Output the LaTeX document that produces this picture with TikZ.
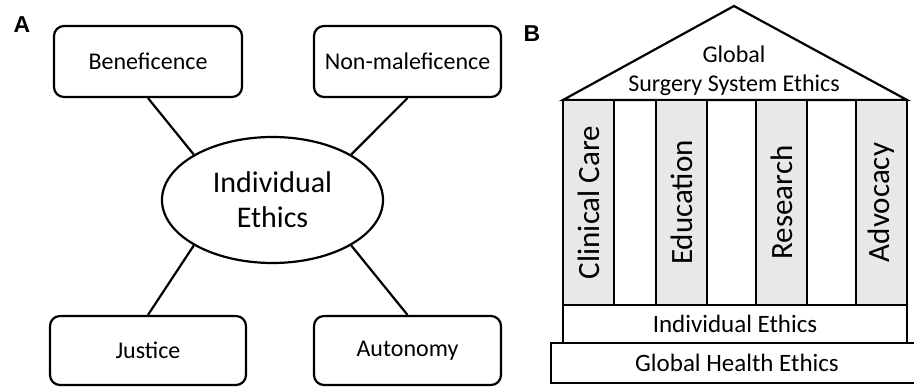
\documentclass[tikz,border=0pt]{standalone}
\usepackage{fontspec}
\setmainfont{Carlito}
\newfontfamily\panelfont{Liberation Sans}
\usetikzlibrary{shapes.geometric}

\definecolor{pillargray}{HTML}{E8E8E8}

\begin{document}
\begin{tikzpicture}[x=1pt,y=-1pt,line width=2.2pt,
    principle/.style={draw, rounded corners=10pt, inner sep=0pt,
      font=\fontsize{24}{29}\selectfont},
    core/.style={draw, ellipse, inner sep=0pt, minimum width=221pt,
      minimum height=126pt, align=center, font=\fontsize{30}{35}\selectfont},
    pillar/.style={draw, fill=pillargray, rotate=90, inner sep=0pt,
      minimum width=205pt, minimum height=51pt,
      font=\fontsize{31}{36}\selectfont},
    platform/.style={draw, inner sep=0pt, font=\fontsize{25}{30}\selectfont},
    panel/.style={font=\panelfont\bfseries\fontsize{23}{26}\selectfont}]
    \useasboundingbox (0,0) rectangle (914,387);

    % Panel A
    \node[panel] (labA) at (22,25) {A};
    \node[core] (ethics) at (272.5,200) {Individual\\Ethics};
    \node[principle, minimum width=188pt, minimum height=71pt] (benef) at (148,61.5) {Beneficence};
    \node[principle, minimum width=187pt, minimum height=71pt] (nonmal) at (407.5,61.5) {Non-maleficence};
    \node[principle, minimum width=196pt, minimum height=69pt] (justice) at (148,350.5) {\raisebox{-4pt}{Justice}};
    \node[principle, minimum width=187pt, minimum height=69pt] (autonomy) at (407.5,350.5) {\raisebox{-3pt}{Autonomy}};

    % Spokes
    \draw (benef.south) -- (ethics.150);
    \draw (nonmal.south) -- (ethics.30);
    \draw (justice.north) -- (ethics.210);
    \draw (autonomy.north) -- (ethics.330);

    % Panel B
    \node[panel] (labB) at (532,34) {B};
    \coordinate (roofL) at (563,100);
    \coordinate (roofT) at (734,6);
    \coordinate (roofR) at (907,100);
    \draw[line join=miter] (roofL) -- (roofT) -- (roofR) -- cycle;
    \node[align=center, font=\fontsize{24}{29}\selectfont] (roof) at (734,71) {Global\\Surgery System Ethics};

    % Pillars
    \node[pillar] (care) at (588.5,202.5) {Clinical Care};
    \node[pillar] (edu) at (681.5,202.5) {Education};
    \node[pillar] (res) at (781.5,202.5) {Research};
    \node[pillar] (adv) at (881.5,202.5) {Advocacy};

    % Base
    \node[platform, minimum width=344pt, minimum height=38pt] (indiv) at (735,324) {Individual Ethics};
    \node[platform, minimum width=372pt, minimum height=40pt] (health) at (737,363) {Global Health Ethics};
\end{tikzpicture}
\end{document}
